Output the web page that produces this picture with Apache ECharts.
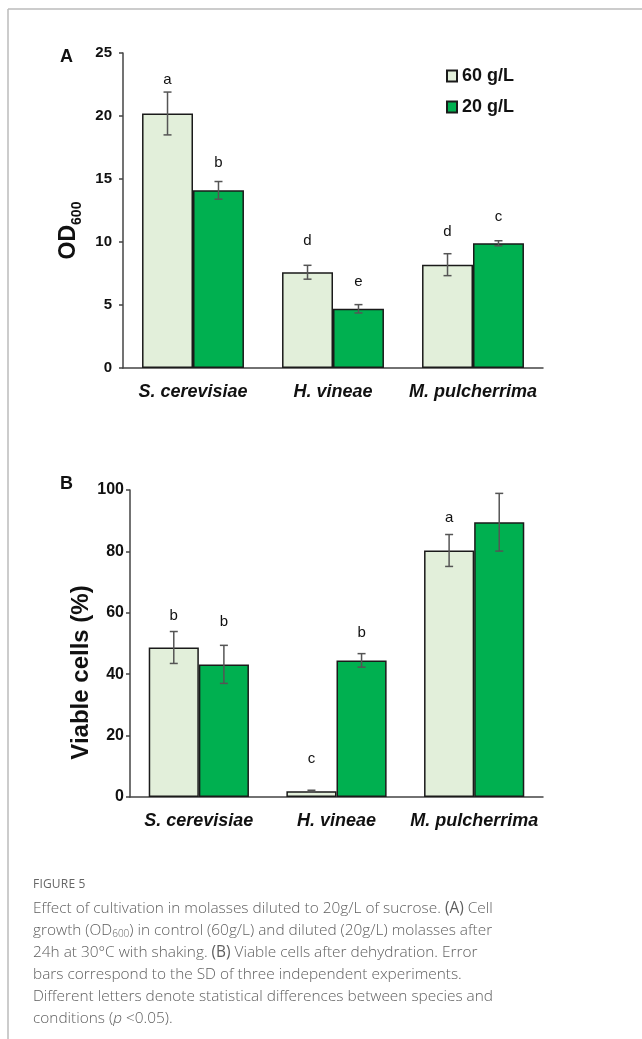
<!DOCTYPE html>
<html>
<head>
<meta charset="utf-8">
<script src="https://cdn.jsdelivr.net/npm/echarts@6/dist/echarts.min.js"></script>
<style>
  body { margin: 0; background: #fff; }
  #main { width: 642px; height: 1039px; position: absolute; left: 0; top: 0; }
  #caption { position: absolute; left: 33px; top: 874px; width: 600px;
    font-family: "Open Sans", "Noto Sans", sans-serif; color: #5e5e5e; }
  #caption .fig { font-size: 12px; letter-spacing: 0.2px; line-height: 19px; color: #666; margin-bottom: 4px; }
  #caption .txt { font-size: 15.4px; line-height: 22px; white-space: nowrap; font-weight: 300; }
  #caption sub { font-size: 10px; vertical-align: -2px; line-height: 0; }
</style>
</head>
<body>
<div id="main"></div>
<div id="caption">
  <div class="fig">FIGURE 5</div>
  <div class="txt">
    Effect of cultivation in molasses diluted to 20g/L of sucrose. <b>(A)</b> Cell<br>
    growth (OD<sub>600</sub>) in control (60g/L) and diluted (20g/L) molasses after<br>
    24h at 30°C with shaking. <b>(B)</b> Viable cells after dehydration. Error<br>
    bars correspond to the SD of three independent experiments.<br>
    Different letters denote statistical differences between species and<br>
    conditions (<i>p</i> &lt;0.05).
  </div>
</div>
<script>
var species = ['S. cerevisiae', 'H. vineae', 'M. pulcherrima'];

// panel A - OD600
var odHigh = [20.2, 7.6, 8.2];
var odHighSd = [1.7, 0.55, 0.87];
var odLow = [14.1, 4.7, 9.9];
var odLowSd = [0.7, 0.33, 0.2];
var odHighLetters = ['a', 'd', 'd'];
var odHighLetterY = [22.9, 10.1, 10.8];
var odLowLetters = ['b', 'e', 'c'];
var odLowLetterY = [16.3, 6.85, 12.0];

// panel B - viable cells (%)
var viaHigh = [48.7, 1.9, 80.3];
var viaHighSd = [5.2, 0.3, 5.2];
var viaLow = [43.2, 44.5, 89.5];
var viaLowSd = [6.2, 2.2, 9.4];
var viaHighLetters = ['b', 'c', 'a'];
var viaHighLetterY = [59.0, 12.3, 91.0];
var viaLowLetters = ['b', 'b', ''];
var viaLowLetterY = [56.9, 53.5, 0];

var BAR_RATIO = 0.364;
var FONT = '"Liberation Sans", Arial, sans-serif';
var lightGreen = '#e2efda';
var darkGreen = '#00b050';

function barSeries(name, idx, data, color) {
  return {
    name: name, type: 'bar', xAxisIndex: idx, yAxisIndex: idx,
    data: data, barWidth: (BAR_RATIO * 100) + '%', barGap: '0%',
    itemStyle: { color: color, borderColor: '#1a1a1a', borderWidth: 1.5 },
    emphasis: { disabled: true }
  };
}

function errorSeries(idx, values, sds, side) {
  return {
    type: 'custom', xAxisIndex: idx, yAxisIndex: idx, z: 10, silent: true,
    data: values.map(function (v, i) { return [i, v, sds[i]]; }),
    renderItem: function (params, api) {
      var band = api.size([1, 0])[0];
      var x = api.coord([api.value(0), 0])[0] + side * band * BAR_RATIO / 2;
      var top = api.coord([api.value(0), api.value(1) + api.value(2)])[1];
      var bot = api.coord([api.value(0), api.value(1) - api.value(2)])[1];
      var st = { stroke: '#555', lineWidth: 1.5 };
      return { type: 'group', children: [
        { type: 'line', shape: { x1: x, y1: top, x2: x, y2: bot }, style: st },
        { type: 'line', shape: { x1: x - 4, y1: top, x2: x + 4, y2: top }, style: st },
        { type: 'line', shape: { x1: x - 4, y1: bot, x2: x + 4, y2: bot }, style: st }
      ]};
    }
  };
}

function letterSeries(idx, letters, ys, side) {
  return {
    type: 'custom', xAxisIndex: idx, yAxisIndex: idx, z: 10, silent: true,
    data: letters.map(function (l, i) { return [i, ys[i], l]; }),
    renderItem: function (params, api) {
      var band = api.size([1, 0])[0];
      var p = api.coord([api.value(0), api.value(1)]);
      return { type: 'text', style: {
        text: letters[params.dataIndex], x: p[0] + side * band * BAR_RATIO / 2, y: p[1],
        align: 'center', verticalAlign: 'middle',
        font: '15px ' + FONT, fill: '#111'
      }};
    }
  };
}

var chart = echarts.init(document.getElementById('main'));
chart.setOption({
  animation: false,
  textStyle: { fontFamily: FONT },
  grid: [
    { left: 123, top: 53, width: 420, height: 315 },
    { left: 130, top: 490, width: 413, height: 307 }
  ],
  legend: {
    data: ['60 g/L', '20 g/L'], orient: 'vertical', left: 446, top: 67, padding: 0,
    icon: 'rect', itemWidth: 10, itemHeight: 11, itemGap: 13, selectedMode: false,
    textStyle: { fontSize: 18, fontWeight: 'bold', color: '#111', fontFamily: FONT }
  },
  xAxis: [0, 1].map(function (i) {
    return {
      type: 'category', gridIndex: i, data: species,
      axisLine: { lineStyle: { color: '#444', width: 1.5 } },
      axisTick: { show: false },
      axisLabel: { interval: 0, fontSize: 18, fontWeight: 'bold', fontStyle: 'italic', color: '#111', margin: 15 }
    };
  }),
  yAxis: [
    {
      type: 'value', gridIndex: 0, min: 0, max: 25, interval: 5,
      name: '{a|OD}{b|600}', nameLocation: 'middle', nameGap: 40, nameRotate: 90,
      nameTextStyle: { rich: {
        a: { fontSize: 23, fontWeight: 'bold', color: '#111', fontFamily: FONT },
        b: { fontSize: 14, fontWeight: 'bold', color: '#111', fontFamily: FONT, verticalAlign: 'bottom', padding: [0, 40, -4, 0] }
      }},
      splitLine: { show: false },
      axisLine: { show: true, lineStyle: { color: '#444', width: 1.5 } },
      axisTick: { show: true, length: 4, lineStyle: { color: '#444', width: 1.5 } },
      axisLabel: { fontSize: 15, fontWeight: 'bold', color: '#111', margin: 11 }
    },
    {
      type: 'value', gridIndex: 1, min: 0, max: 100, interval: 20,
      name: 'Viable cells (%)', nameLocation: 'middle', nameGap: 37, nameRotate: 90,
      nameMoveOverlap: false,
      nameTextStyle: { fontSize: 24, fontWeight: 'bold', color: '#111', padding: [0, 58, 0, 0] },
      splitLine: { show: false },
      axisLine: { show: true, lineStyle: { color: '#444', width: 1.5 } },
      axisTick: { show: true, length: 4, lineStyle: { color: '#444', width: 1.5 } },
      axisLabel: { fontSize: 16, fontWeight: 'bold', color: '#111', margin: 6 }
    }
  ],
  graphic: [
    { type: 'line', shape: { x1: 8, y1: 9, x2: 642, y2: 9 }, style: { stroke: '#bbb', lineWidth: 1.5 } },
    { type: 'line', shape: { x1: 8, y1: 9, x2: 8, y2: 1039 }, style: { stroke: '#bbb', lineWidth: 1.5 } },
    { type: 'text', left: 60, top: 48, style: { text: 'A', font: 'bold 18px ' + FONT, fill: '#111' } },
    { type: 'text', left: 60, top: 475, style: { text: 'B', font: 'bold 18px ' + FONT, fill: '#111' } }
  ],
  series: [
    barSeries('60 g/L', 0, odHigh, lightGreen),
    barSeries('20 g/L', 0, odLow, darkGreen),
    errorSeries(0, odHigh, odHighSd, -1),
    errorSeries(0, odLow, odLowSd, 1),
    letterSeries(0, odHighLetters, odHighLetterY, -1),
    letterSeries(0, odLowLetters, odLowLetterY, 1),
    barSeries('60 g/L', 1, viaHigh, lightGreen),
    barSeries('20 g/L', 1, viaLow, darkGreen),
    errorSeries(1, viaHigh, viaHighSd, -1),
    errorSeries(1, viaLow, viaLowSd, 1),
    letterSeries(1, viaHighLetters, viaHighLetterY, -1),
    letterSeries(1, viaLowLetters, viaLowLetterY, 1)
  ]
});
</script>
</body>
</html>
